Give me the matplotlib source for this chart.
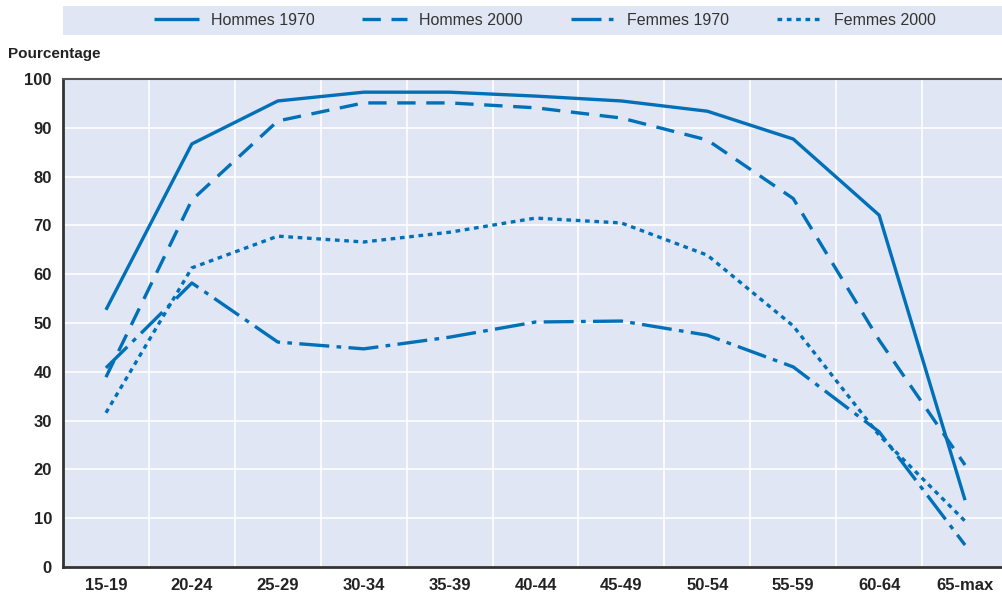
import matplotlib
matplotlib.use("Agg")
import matplotlib.pyplot as plt
from matplotlib.patches import Rectangle

plt.rcParams['font.family'] = ['Liberation Sans Narrow', 'Liberation Sans', 'DejaVu Sans']

categories = ["15-19", "20-24", "25-29", "30-34", "35-39", "40-44",
              "45-49", "50-54", "55-59", "60-64", "65-max"]
hommes_1970 = [52.7, 86.7, 95.5, 97.3, 97.3, 96.5, 95.5, 93.4, 87.7, 72.1, 13.7]
hommes_2000 = [38.9, 75.2, 91.4, 95.1, 95.1, 94.1, 92.0, 87.5, 75.5, 46.5, 20.9]
femmes_1970 = [40.8, 58.2, 46.1, 44.7, 47.1, 50.2, 50.4, 47.5, 41.0, 27.7, 4.5]
femmes_2000 = [31.6, 61.3, 67.8, 66.6, 68.6, 71.5, 70.5, 63.9, 49.4, 27.0, 9.4]
labels = ["Hommes 1970", "Hommes 2000", "Femmes 1970", "Femmes 2000"]
yticks = [0, 10, 20, 30, 40, 50, 60, 70, 80, 90, 100]

blue = "#0070B8"
bg = "#E1E6F4"
lw = 2.4

fig = plt.figure(figsize=(10.03, 5.94), dpi=100)
ax = fig.add_axes([63/1003, 27/594, 945/1003, (567-79)/594])
ax.set_facecolor(bg)

x = list(range(len(categories)))
styles = [
    dict(linestyle='-'),
    dict(linestyle=(0, (5.5, 3.2))),
    dict(linestyle=(0, (9, 2.2, 1.4, 2.2))),
    dict(linestyle=(0, (1.4, 1.4))),
]
series = [hommes_1970, hommes_2000, femmes_1970, femmes_2000]
handles = []
for s, st, lab in zip(series, styles, labels):
    h, = ax.plot(x, s, color=blue, lw=lw, label=lab, solid_capstyle='butt',
                 dash_capstyle='butt', clip_on=False, **st)
    handles.append(h)

ax.set_xlim(-0.5, len(categories) - 0.5)
ax.set_ylim(0, 100)
ax.set_yticks(yticks)
ax.set_xticks(x)
ax.set_xticklabels(categories)
ax.set_xticks([i + 0.5 for i in range(len(categories) - 1)], minor=True)
ax.grid(False)
ax.yaxis.grid(True, which='major', color='white', lw=1.2)
ax.xaxis.grid(True, which='minor', color='white', lw=1.2)
ax.set_axisbelow(True)
ax.tick_params(axis='both', which='both', length=0)
ax.tick_params(axis='x', pad=8)
ax.tick_params(axis='y', pad=8)
for lbl in ax.get_xticklabels() + ax.get_yticklabels():
    lbl.set_fontsize(12)
    lbl.set_fontweight('bold')
    lbl.set_color('#222222')

for side in ['left', 'bottom']:
    ax.spines[side].set_color('#333333')
    ax.spines[side].set_linewidth(2)
ax.spines['top'].set_linewidth(1.5)
ax.spines['top'].set_color('#555555')
ax.spines['right'].set_visible(False)

fig.text(8/1003, 1 - 54/594, "Pourcentage", fontsize=11, fontweight='bold',
         color='#222222', ha='left', va='center')

# legend band
fig.patches.append(Rectangle((63/1003, 1 - 35/594), 1 - 63/1003, 29/594,
                             transform=fig.transFigure, facecolor=bg,
                             edgecolor='none', zorder=0))
leg = fig.legend(handles=handles, loc='center', ncol=4,
                 bbox_to_anchor=(545/1003, 1 - 20.5/594), frameon=False,
                 fontsize=11.5, handlelength=2.8, handletextpad=0.75,
                 columnspacing=3.0)
for t in leg.get_texts():
    t.set_color('#333333')

fig.savefig("out.png", dpi=100)
